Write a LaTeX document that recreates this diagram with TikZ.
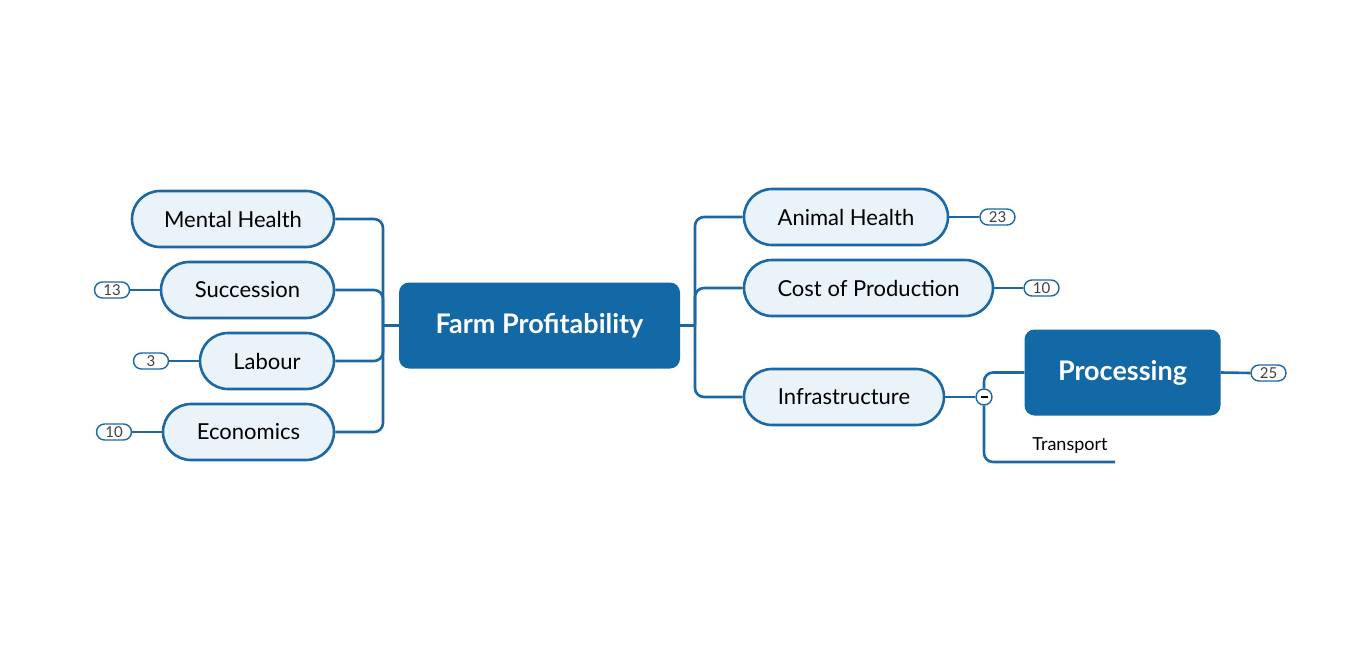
\documentclass[tikz,border=0pt]{standalone}
\usepackage{fontspec}
\setmainfont{Lato}
\usetikzlibrary{positioning}
\definecolor{mapblue}{RGB}{18,105,166}
\definecolor{lineblue}{RGB}{28,104,164}
\definecolor{palefill}{RGB}{234,242,250}
\tikzset{
  central/.style={rectangle,rounded corners=10pt,fill=mapblue,text=white,
    font=\fontsize{27}{30}\selectfont\bfseries,minimum height=86pt},
  topic/.style={rectangle,rounded corners=28pt,draw=lineblue,line width=2.6pt,
    fill=palefill,text=black,font=\fontsize{22}{26}\selectfont,minimum height=56pt},
  badge/.style={rectangle,rounded corners=8pt,draw=lineblue,line width=1.4pt,
    fill=white,text=black!75,font=\fontsize{15}{17}\selectfont,
    minimum width=35pt,minimum height=16pt,inner sep=0pt},
  link/.style={draw=lineblue,line width=2.6pt,rounded corners=9pt},
}
\begin{document}
\begin{tikzpicture}[x=1pt,y=-1pt]
  \useasboundingbox (0,0) rectangle (1345,664);
  % main topic
  \node[central,minimum width=281pt] (farm) at (539.5,325.5) {Farm Profitability};
  % left branch
  \node[topic,minimum width=202pt] (mental) at (233,219) {Mental Health};
  \node[topic,minimum width=173pt] (succ) at (247.5,290) {Succession};
  \node[topic,minimum width=134pt] (labour) at (267,361) {Labour};
  \node[topic,minimum width=171pt] (econ) at (248.5,432) {Economics};
  \coordinate (lbus) at (383,325.5);
  \draw[link] (farm.west) -- (lbus);
  \draw[link] (lbus) |- (mental.east);
  \draw[link] (lbus) |- (succ.east);
  \draw[link] (lbus) |- (labour.east);
  \draw[link] (lbus) |- (econ.east);
  \node[badge] (nsucc) at (112,290) {13};
  \node[badge] (nlab) at (151,361) {3};
  \node[badge] (necon) at (114,432) {10};
  \draw[link] (nsucc.east) -- (succ.west);
  \draw[link] (nlab.east) -- (labour.west);
  \draw[link] (necon.east) -- (econ.west);
  % right branch
  \node[topic,minimum width=204pt] (animal) at (846,217) {Animal Health};
  \node[topic,minimum width=249pt] (cost) at (868.5,288) {Cost of Production};
  \node[topic,minimum width=200pt] (infra) at (844,397) {Infrastructure};
  \coordinate (rbus) at (695,325.5);
  \draw[link] (farm.east) -- (rbus);
  \draw[link] (rbus) |- (animal.west);
  \draw[link] (rbus) |- (cost.west);
  \draw[link] (rbus) |- (infra.west);
  \node[badge] (nanim) at (997.5,217) {23};
  \node[badge] (ncost) at (1041.5,288) {10};
  \draw[link] (animal.east) -- (nanim.west);
  \draw[link] (cost.east) -- (ncost.west);
  % sub-topics of infrastructure
  \node[central,minimum width=196pt] (proc) at (1122.5,372.5) {Processing};
  \node[badge] (nproc) at (1268.5,373) {25};
  \draw[link] (proc.east) -- (nproc.west);
  \node[font=\fontsize{18}{21}\selectfont,inner sep=0pt] (transp) at (1070,446) {Transport};
  \coordinate (tend) at (1115,462);
  \node[circle,draw=lineblue,line width=1.4pt,fill=white,minimum size=16pt,inner sep=0pt] (fold) at (984,397) {};
  \draw[link] (infra.east) -- (fold.west);
  \draw[link] (fold.north) |- (proc.west);
  \draw[link] (fold.south) |- (tend);
  \draw[line width=1.6pt] ([xshift=-3.5pt]fold.center) -- ([xshift=3.5pt]fold.center);
\end{tikzpicture}
\end{document}
